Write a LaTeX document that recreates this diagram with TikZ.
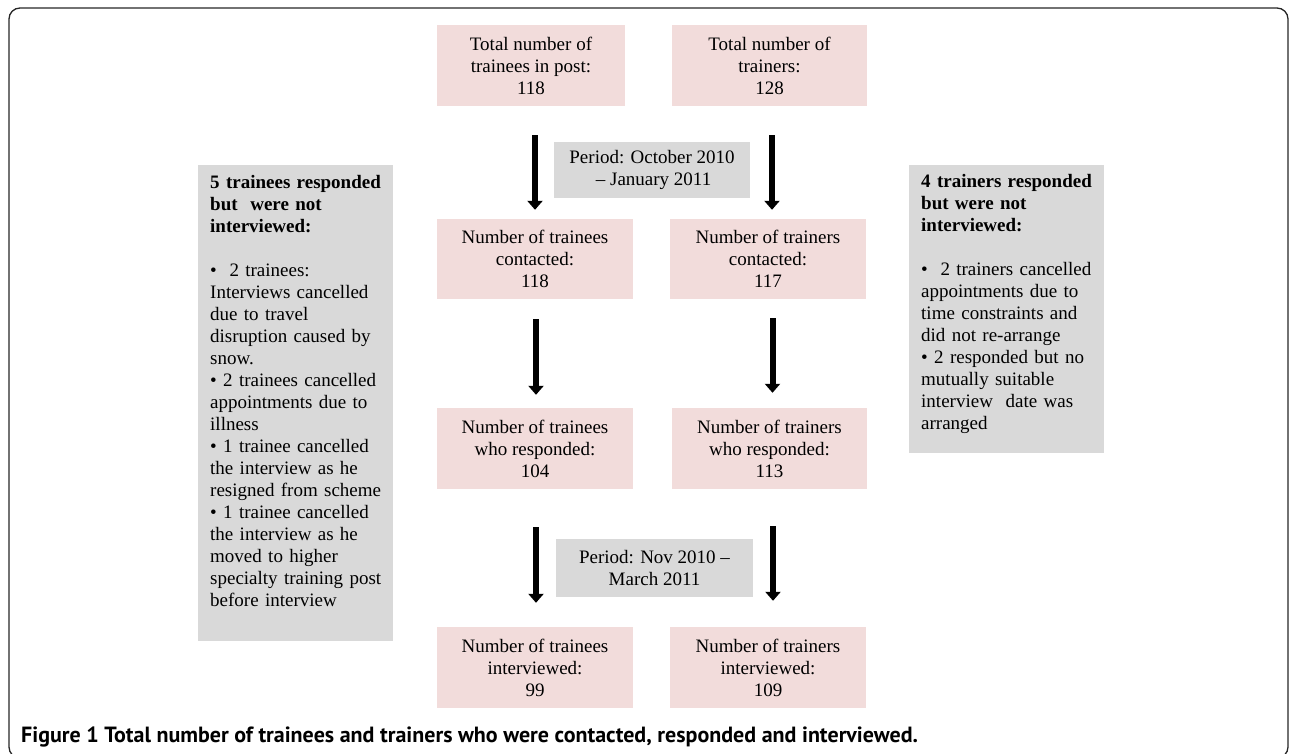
\documentclass[tikz,border=0pt]{standalone}
\usepackage{fontspec}
\setmainfont{Liberation Serif}
\newfontfamily\capfont{PT Sans}
\usetikzlibrary{arrows.meta}
\definecolor{pinkbox}{HTML}{F2DCDB}
\definecolor{graybox}{HTML}{D9D9D9}
\begin{document}
\begin{tikzpicture}[x=1pt,y=-1pt,
  txt/.style={font=\fontsize{19}{22}\selectfont},
  pinkb/.style={txt,fill=pinkbox,draw=none,align=center,inner sep=0pt},
  grayb/.style={fill=graybox,draw=none,inner sep=0pt},
  periodb/.style={txt,fill=graybox,draw=none,align=center,inner sep=0pt},
  sidetext/.style={txt,align=left,anchor=north west,inner sep=0pt,text width=190pt},
  bigarrow/.style={line width=6pt,-{Triangle[width=15pt,length=9pt]}}
]
\useasboundingbox (0,0) rectangle (1290,754);
\begin{scope}
\clip (0,0) rectangle (1290,754);
\draw[rounded corners=11pt,line width=1.3pt,black!85] (9,8) rectangle (1288,758);
\end{scope}

% pink boxes
\node[pinkb,minimum width=188pt,minimum height=81pt] (T1) at (531,65.5) {Total number of\\trainees in post:\\118};
\node[pinkb,minimum width=195pt,minimum height=81pt] (R1) at (769.5,65.5) {Total number of\\trainers:\\128};
\node[pinkb,minimum width=196pt,minimum height=80pt] (T2) at (535,259) {Number of trainees\\contacted:\\118};
\node[pinkb,minimum width=196pt,minimum height=80pt] (R2) at (768,259) {Number of trainers\\contacted:\\117};
\node[pinkb,minimum width=196pt,minimum height=81pt] (T3) at (535,448.5) {Number of trainees\\who responded:\\104};
\node[pinkb,minimum width=195pt,minimum height=81pt] (R3) at (769.5,448.5) {Number of trainers\\who responded:\\113};
\node[pinkb,minimum width=196pt,minimum height=81pt] (T4) at (535,667.5) {Number of trainees\\interviewed:\\99};
\node[pinkb,minimum width=196pt,minimum height=81pt] (R4) at (768,667.5) {Number of trainers\\interviewed:\\109};

% period boxes
\node[periodb,minimum width=196pt,minimum height=56pt] (P1) at (652,170) {Period: October 2010\\\,{\textendash} January 2011};
\node[periodb,minimum width=197pt,minimum height=58pt] (P2) at (654.5,568) {Period: Nov 2010 {\textendash}\\March 2011};

% side boxes
\node[grayb,minimum width=195pt,minimum height=476pt] (L) at (295.5,403) {};
\node[grayb,minimum width=195pt,minimum height=288pt] (R) at (1006.5,309) {};
\node[sidetext] (Ltext) at (210,172.6) {\strut\textbf{5 trainees responded}\\\textbf{but\ \ were not}\\\textbf{interviewed:}\\[22pt]
\textbullet\ \ 2 trainees:\\Interviews cancelled\\due to travel\\disruption caused by\\snow.\\
\textbullet\ 2 trainees cancelled\\appointments due to\\illness\\
\textbullet\ 1 trainee cancelled\\the interview as he\\resigned from scheme\\
\textbullet\ 1 trainee cancelled\\the interview as he\\moved to higher\\specialty training post\\before interview};
\node[sidetext] (Rtext) at (921,171.6) {\strut\textbf{4 trainers responded}\\\textbf{but were not}\\\textbf{interviewed:}\\[22pt]
\textbullet\ \ 2 trainers cancelled\\appointments due to\\time constraints and\\did not re-arrange\\
\textbullet\ 2 responded but no\\mutually suitable\\interview\ \ date was\\arranged};

% arrows
\draw[bigarrow,shorten <=29pt,shorten >=9pt] (T2.north |- T1.south) -- (T2.north);
\draw[bigarrow,shorten <=29pt,shorten >=9pt] ([xshift=4pt]R2.north |- R1.south) -- ([xshift=4pt]R2.north);
\draw[bigarrow,shorten <=20pt,shorten >=13pt] ([xshift=1pt]T3.north |- T2.south) -- ([xshift=1pt]T3.north);
\draw[bigarrow,shorten <=19pt,shorten >=15pt] ([xshift=3pt]R3.north |- R2.south) -- ([xshift=3pt]R3.north);
\draw[bigarrow,shorten <=38pt,shorten >=24pt] ([xshift=1pt]T4.north |- T3.south) -- ([xshift=1pt]T4.north);
\draw[bigarrow,shorten <=37pt,shorten >=26pt] ([xshift=5pt]R4.north |- R3.south) -- ([xshift=5pt]R4.north);

% caption
\node[anchor=base west,inner sep=0pt,font=\capfont\bfseries\fontsize{22}{26}\selectfont] (cap) at (21,742) {Figure 1 Total number of trainees and trainers who were contacted, responded and interviewed.};
\end{tikzpicture}
\end{document}
